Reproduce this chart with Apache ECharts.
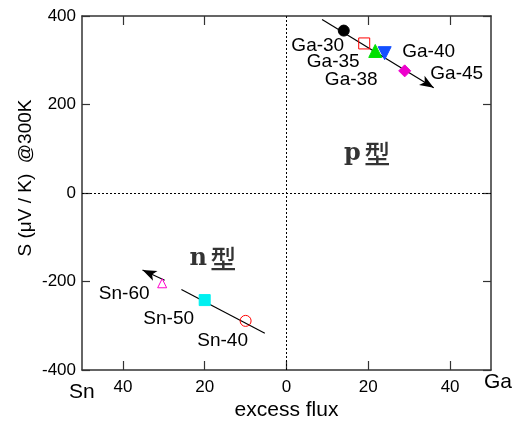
<!DOCTYPE html>
<html>
<head>
<meta charset="utf-8">
<script src="https://cdn.jsdelivr.net/npm/echarts@6/dist/echarts.min.js"></script>
<style>
html,body{margin:0;padding:0;background:#fff;}
#chart{width:516px;height:428px;}
</style>
</head>
<body>
<div id="chart"></div>
<script>
// ---- data ----
const gaNames = ['Ga-30', 'Ga-35', 'Ga-38', 'Ga-40', 'Ga-45'];
const gaX = [14, 19, 21.7, 24, 28.9];
const gaY = [367, 338, 321, 316, 276];
const snNames = ['Sn-60', 'Sn-50', 'Sn-40'];
const snX = [-30.4, -20, -10];
const snY = [-204, -242, -289];
const gaTrend = [[8.7, 392], [36, 238]];
const snTrend = [[-25.7, -218], [-5.3, -317]];
const snArrow = [[-29.8, -197], [-35.2, -174]];
const xTicks = [-40, -20, 0, 20, 40];
const yTicks = [-400, -200, 0, 200, 400];
const typeLabels = [['p', 19.7, 88], ['n', -18, -149]];

// ---- styles (not data) ----
const FONT = 'Liberation Sans, Arial, sans-serif';
const pointStyles = {
  'Ga-30': {symbol: 'circle', size: 11, color: '#000', border: '#000', offset: [-26, 15]},
  'Ga-35': {symbol: 'rect', size: 11, color: 'rgba(0,0,0,0)', border: '#ff0000', offset: [-31, 18]},
  'Ga-38': {symbol: 'triangle', size: 13, color: '#00e000', border: '#00e000', offset: [-24, 29]},
  'Ga-40': {symbol: 'triangle', size: 13, color: '#1450ff', border: '#1450ff', rotate: 180, offset: [44, -1]},
  'Ga-45': {symbol: 'diamond', size: 12, color: '#ee00cc', border: '#ee00cc', offset: [52, 3]},
  'Sn-60': {symbol: 'triangle', size: 9, color: 'rgba(0,0,0,0)', border: '#ff00cc', offset: [-38, 10]},
  'Sn-50': {symbol: 'rect', size: 11, color: '#00f0f0', border: '#00f0f0', offset: [-36, 19]},
  'Sn-40': {symbol: 'circle', size: 11, color: 'rgba(0,0,0,0)', border: '#ff0000', offset: [-23, 20]}
};

function pointSeries(name, x, y) {
  const s = pointStyles[name];
  return {
    type: 'scatter',
    name: name,
    z: 5,
    silent: true,
    symbol: s.symbol,
    symbolSize: s.size,
    symbolRotate: s.rotate || 0,
    itemStyle: {color: s.color, borderColor: s.border, borderWidth: 1, opacity: 1},
    label: {
      show: true, formatter: name, position: 'inside', offset: s.offset,
      color: '#000', fontSize: 19, fontFamily: FONT
    },
    data: [[x, y]]
  };
}

const series = [];
gaNames.forEach((n, i) => series.push(pointSeries(n, gaX[i], gaY[i])));
snNames.forEach((n, i) => series.push(pointSeries(n, snX[i], snY[i])));

function seg(pts) {
  return [{coord: pts[0]}, {coord: pts[1]}];
}

// lines: zero lines + trend arrows
series.push({
  type: 'scatter',
  data: [],
  z: 2,
  silent: true,
  markLine: {
    silent: true,
    animation: false,
    symbol: ['none', 'none'],
    label: {show: false},
    lineStyle: {color: '#000', width: 1, type: [2, 2]},
    emphasis: {disabled: true},
    data: [{xAxis: 0}, {yAxis: 0}]
  }
});
series.push({
  type: 'scatter',
  data: [],
  z: 3,
  silent: true,
  markLine: {
    silent: true,
    animation: false,
    symbol: ['none', 'arrow'],
    symbolSize: [8, 14],
    label: {show: false},
    lineStyle: {color: '#000', width: 1.2, type: 'solid'},
    emphasis: {disabled: true},
    data: [
      seg(gaTrend),
      [{coord: snTrend[0], symbol: 'none'}, {coord: snTrend[1], symbol: 'none'}],
      seg(snArrow)
    ]
  }
});
// p / n type labels
series.push({
  type: 'scatter',
  z: 4,
  silent: true,
  symbol: 'circle',
  symbolSize: 1,
  itemStyle: {color: 'rgba(0,0,0,0)'},
  label: {
    show: true,
    position: 'inside',
    formatter: p => '{a|' + p.data[2] + '} {b|型}',
    rich: {
      a: {fontFamily: 'DejaVu Serif', fontWeight: 'bold', fontSize: 24, color: '#000'},
      b: {fontFamily: 'Noto Sans CJK JP', fontWeight: 500, fontSize: 26, color: '#000'}
    }
  },
  data: typeLabels.map(t => [t[1], t[2], t[0]])
});

const axisLineStyle = {color: '#333', width: 1.5};

const option = {
  animation: false,
  backgroundColor: '#fff',
  grid: {left: 82, right: 25, top: 16, bottom: 58, containLabel: false, outerBoundsMode: 'none'},
  xAxis: [
    {
      type: 'value', min: -50, max: 50, position: 'bottom',
      name: 'excess flux', nameLocation: 'middle', nameGap: 30, nameMoveOverlap: false,
      nameTextStyle: {fontSize: 21, fontFamily: FONT, color: '#000'},
      axisLine: {show: true, onZero: false, lineStyle: axisLineStyle},
      axisTick: {show: true, inside: true, length: 9, customValues: xTicks, lineStyle: {color: '#333', width: 1.2}},
      axisLabel: {show: true, customValues: xTicks, margin: 9, fontSize: 17, fontFamily: FONT, color: '#000',
        formatter: v => String(Math.abs(v))},
      splitLine: {show: false}
    },
    {
      type: 'value', min: -50, max: 50, position: 'top',
      axisLine: {show: true, onZero: false, lineStyle: axisLineStyle},
      axisTick: {show: true, inside: true, length: 9, customValues: [-40, -20, 20, 40], lineStyle: {color: '#333', width: 1.2}},
      axisLabel: {show: false},
      splitLine: {show: false}
    }
  ],
  yAxis: [
    {
      type: 'value', min: -400, max: 400, interval: 200, position: 'left',
      name: 'S (μV / K)  @300K', nameLocation: 'middle', nameGap: 47, nameRotate: 90, nameMoveOverlap: false,
      nameTextStyle: {fontSize: 19, fontFamily: FONT, color: '#000', padding: [0, 0, 0, 30]},
      axisLine: {show: true, onZero: false, lineStyle: axisLineStyle},
      axisTick: {show: true, inside: true, length: 8, lineStyle: {color: '#333', width: 1.2}},
      axisLabel: {show: true, margin: 6, fontSize: 17, fontFamily: FONT, color: '#000',
        customValues: yTicks},
      splitLine: {show: false}
    },
    {
      type: 'value', min: -400, max: 400, interval: 200, position: 'right',
      axisLine: {show: true, onZero: false, lineStyle: axisLineStyle},
      axisTick: {show: true, inside: true, length: 8, lineStyle: {color: '#333', width: 1.2}},
      axisLabel: {show: false},
      splitLine: {show: false}
    }
  ],
  graphic: [
    {type: 'text', left: 69, top: 382, style: {text: 'Sn', fontSize: 21, fontFamily: FONT, fill: '#000'}},
    {type: 'text', left: 484, top: 372, style: {text: 'Ga', fontSize: 21, fontFamily: FONT, fill: '#000'}}
  ],
  series: series
};

const chart = echarts.init(document.getElementById('chart'), null, {renderer: 'canvas'});
chart.setOption(option);
</script>
</body>
</html>
